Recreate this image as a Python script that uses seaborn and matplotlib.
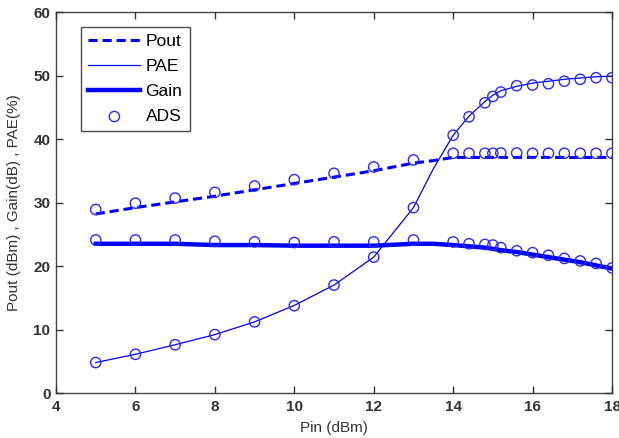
import matplotlib
matplotlib.use("Agg")
import matplotlib.pyplot as plt
import seaborn as sns
import pandas as pd

# Simulated (line) data
pin_sim = [5, 6, 7, 8, 9, 10, 11, 12, 13, 13.5, 14, 14.4, 14.8, 15, 15.2, 15.6, 16, 16.4, 16.8, 17.2, 17.6, 18]
pout_sim = [28.2, 29.2, 30.1, 31.0, 32.0, 33.0, 34.0, 35.0, 36.2, 36.6, 37.1, 37.1, 37.1, 37.1, 37.1, 37.1, 37.1, 37.1, 37.1, 37.1, 37.1, 37.1]
pae_sim = [4.8, 6.1, 7.6, 9.2, 11.2, 13.8, 17.0, 21.4, 29.2, 35.3, 40.6, 43.6, 45.9, 46.9, 47.6, 48.3, 48.8, 49.1, 49.4, 49.6, 49.8, 49.9]
gain_sim = [23.5, 23.5, 23.5, 23.3, 23.3, 23.2, 23.2, 23.2, 23.5, 23.5, 23.3, 23.1, 22.9, 22.7, 22.5, 22.2, 21.8, 21.4, 21.0, 20.6, 20.1, 19.6]

# ADS (circle) data
pin_ads = [5, 6, 7, 8, 9, 10, 11, 12, 13, 14, 14.4, 14.8, 15, 15.2, 15.6, 16, 16.4, 16.8, 17.2, 17.6, 18]
pout_ads = [28.9, 29.9, 30.7, 31.6, 32.6, 33.6, 34.6, 35.6, 36.7, 37.75, 37.75, 37.75, 37.75, 37.8, 37.8, 37.75, 37.75, 37.75, 37.75, 37.75, 37.75]
pae_ads = [4.8, 6.1, 7.6, 9.2, 11.2, 13.75, 17.0, 21.4, 29.2, 40.6, 43.5, 45.7, 46.7, 47.4, 48.4, 48.5, 48.7, 49.1, 49.4, 49.65, 49.65]
gain_ads = [24.1, 24.1, 24.1, 23.9, 23.8, 23.7, 23.8, 23.8, 24.1, 23.8, 23.5, 23.4, 23.3, 22.9, 22.4, 22.1, 21.7, 21.2, 20.8, 20.4, 19.7]

x_ticks = [4, 6, 8, 10, 12, 14, 16, 18]
y_ticks = [0, 10, 20, 30, 40, 50, 60]

# MATLAB-like look: white background, inward ticks on all four sides
plt.rcParams.update({
    "font.family": ["Liberation Sans", "DejaVu Sans"],
    "axes.facecolor": "white",
    "axes.edgecolor": "#444444",
    "axes.linewidth": 1.0,
    "axes.grid": False,
    "axes.axisbelow": False,
    "xtick.direction": "in", "ytick.direction": "in",
    "xtick.top": True, "xtick.bottom": True,
    "ytick.left": True, "ytick.right": True,
    "xtick.major.size": 5, "ytick.major.size": 5,
    "xtick.major.width": 1.0, "ytick.major.width": 1.0,
    "xtick.color": "#333333", "ytick.color": "#333333",
    "xtick.labelsize": 11, "ytick.labelsize": 11,
    "xtick.major.pad": 5, "ytick.major.pad": 4,
})

sim = pd.DataFrame({"Pin": pin_sim, "Pout": pout_sim, "PAE": pae_sim, "Gain": gain_sim})
ads = pd.DataFrame({"Pin": pin_ads, "Pout": pout_ads, "PAE": pae_ads, "Gain": gain_ads})

fig = plt.figure(figsize=(6.19, 4.38), dpi=100)
ax = fig.add_axes([0.0905, 0.1027, 0.8982, 0.8699])

blue = "#0000ff"
sns.lineplot(data=sim, x="Pin", y="Pout", ax=ax, color=blue, lw=2.2,
             linestyle=(0, (3, 1.6)), label="Pout")
sns.lineplot(data=sim, x="Pin", y="PAE", ax=ax, color=blue, lw=0.9, label="PAE")
sns.lineplot(data=sim, x="Pin", y="Gain", ax=ax, color=blue, lw=3.2, label="Gain")

ads_long = ads.melt(id_vars="Pin", var_name="quantity", value_name="value")
for i, (name, grp) in enumerate(ads_long.groupby("quantity", sort=False)):
    sns.scatterplot(data=grp, x="Pin", y="value", ax=ax, marker="o", s=55,
                    facecolors="none", edgecolor="#2a2aff", linewidth=1.0,
                    label="ADS" if i == 0 else None, zorder=3)

ax.set_xlim(4, 18)
ax.set_ylim(0, 60)
ax.set_xticks(x_ticks)
ax.set_yticks(y_ticks)
ax.tick_params(which="both", direction="in", bottom=True, left=True,
               top=True, right=True, length=5, width=1.0)
for lab in ax.get_xticklabels() + ax.get_yticklabels():
    lab.set_fontweight("bold")
ax.set_xlabel("Pin (dBm)", fontsize=11, color="#333333", labelpad=5)
ax.set_ylabel("Pout (dBm) , Gain(dB) , PAE(%)", fontsize=11, color="#333333", labelpad=9)

leg = ax.legend(loc="upper left", bbox_to_anchor=(0.045, 0.9606), borderaxespad=0,
                fontsize=12.5, frameon=True, fancybox=False, edgecolor="#222222",
                handlelength=3.0, borderpad=0.42, labelspacing=0.56, handletextpad=0.3)
leg.get_frame().set_linewidth(1.0)

fig.savefig("out.png", dpi=100)
